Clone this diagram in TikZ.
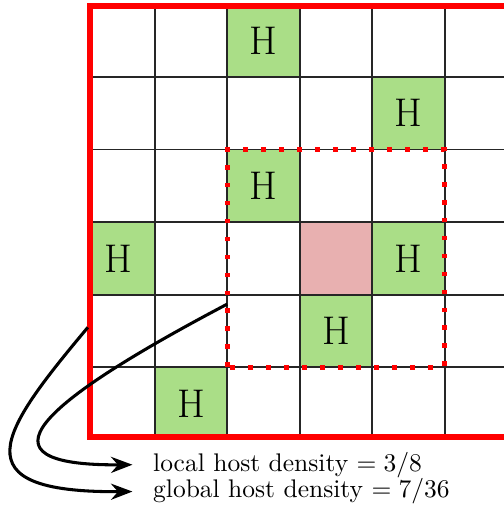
\documentclass[tikz,border=0pt]{standalone}
\usepackage{amsmath}
\usepackage{amssymb}
\usepackage{tikz}
\usetikzlibrary{arrows.meta}

\definecolor{hostgreen}{RGB}{170,222,135}
\definecolor{focuspink}{RGB}{232,176,176}

\begin{document}
\begin{tikzpicture}[
        host/.style={font=\fontsize{15.7}{18}\selectfont},
        cellline/.style={line width=0.7pt,black!85},
        border/.style={red,line width=2.35pt},
        window/.style={red,line width=1.9pt,dash pattern=on 1.9pt off 5.15pt},
        curve/.style={-{Stealth},line width=1.2pt,shorten >=4.6pt}
    ]
        \clip (-1.131,-0.926) rectangle (5.815,6.062);
        \begin{scope}
            \clip (0.113,0.039) rectangle (5.98,5.979);
            \foreach \x/\y in {2/5,4/4,2/3,0/2,4/2,3/1,1/0}
                \fill[hostgreen] (\x,\y) rectangle ++(1,1);
            \fill[focuspink] (3,2) rectangle (4,3);
            \draw[cellline] (0,0) grid (6,6);
        \end{scope}
        \foreach \x/\y [count=\i] in {2/5,4/4,2/3,0/2,4/2,3/1,1/0}
            \node[host] at (\x+0.5,\y+0.5) (h\i) {H};
        \draw[window] (2,1) rectangle (5,4);
        \draw[border] (0.113,0.039) rectangle (5.98,5.979);
        \coordinate (wleft) at (2,1.87);
        \coordinate (fleft) at (0.08,1.55);
        \node[anchor=base west] at (0.856,-0.43) (local) {local host density $= 3/8$};
        \node[anchor=base west] at (0.856,-0.80) (global) {global host density $= 7/36$};
        \draw[curve] (wleft) .. controls (-0.6,0.5) and (-1.55,-0.36) .. (local.west);
        \draw[curve] (fleft) .. controls (-1.14,0.095) and (-1.71,-0.73) .. (global.west);
\end{tikzpicture}
\end{document}
